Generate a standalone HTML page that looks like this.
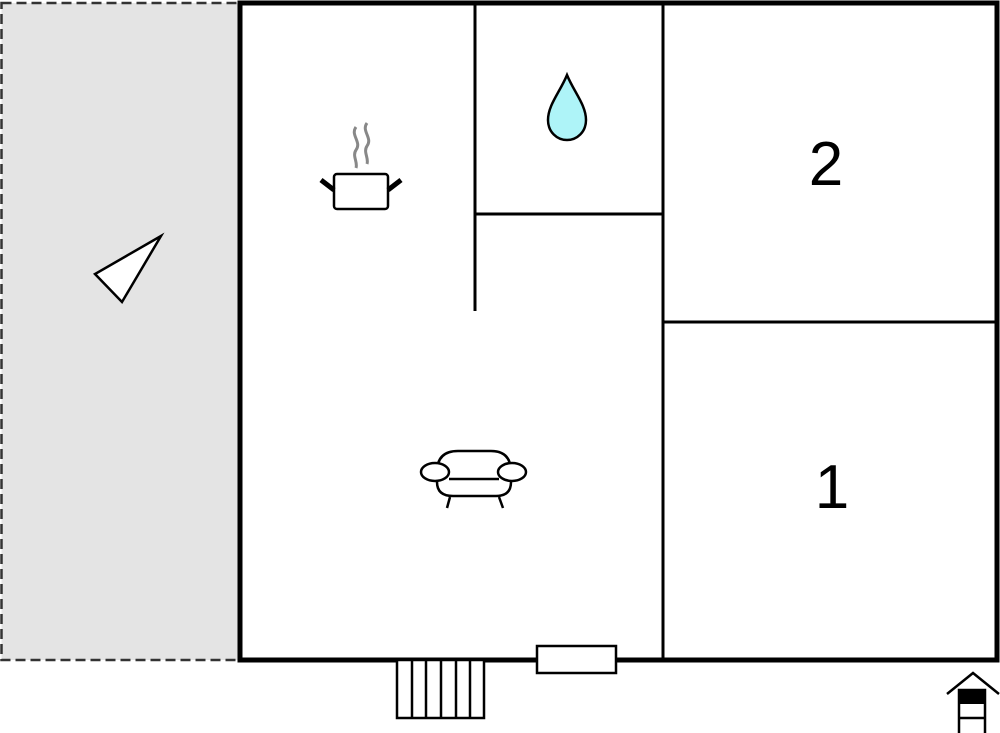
<!DOCTYPE html>
<html><head><style>body{margin:0;background:#fff}svg{display:block}</style></head><body>
<svg width="1000" height="733" viewBox="0 0 1000 733" xmlns="http://www.w3.org/2000/svg">
<rect x="1.5" y="3" width="238.5" height="657" fill="#e4e4e4" stroke="#333" stroke-width="2.5" stroke-dasharray="10,5"/>
<rect x="240" y="3" width="757" height="657" fill="#fff" stroke="#000" stroke-width="5"/>
<g stroke="#000" stroke-width="3" fill="none">
<line x1="475" y1="3" x2="475" y2="311"/>
<line x1="475" y1="214" x2="662" y2="214"/>
<line x1="663" y1="3" x2="663" y2="660"/>
<line x1="663" y1="322" x2="997" y2="322"/>
</g>
<g stroke="#000" stroke-width="2.5" fill="#fff">
<rect x="397" y="660" width="87" height="58"/>
<line x1="412" y1="660" x2="412" y2="718"/><line x1="426" y1="660" x2="426" y2="718"/>
<line x1="441" y1="660" x2="441" y2="718"/><line x1="456" y1="660" x2="456" y2="718"/>
<line x1="470" y1="660" x2="470" y2="718"/>
<rect x="537" y="646" width="79" height="27"/>
</g>
<polygon points="161,236 95,274 122,302" fill="#fff" stroke="#000" stroke-width="2.5"/>
<g fill="none" stroke="#888" stroke-width="3">
<path d="M356,127 C350,135 362,142 356,150 C352,156 358,162 356,168"/>
<path d="M367,123 C361,131 373,138 367,146 C363,152 369,158 367,164"/>
</g>
<rect x="334" y="174" width="54" height="35" rx="3" fill="#fff" stroke="#000" stroke-width="2.5"/>
<line x1="321" y1="180" x2="334" y2="190" stroke="#000" stroke-width="5"/>
<line x1="401" y1="180" x2="388" y2="190" stroke="#000" stroke-width="5"/>
<path d="M567,75 C560,92 548,105 548,120 C548,132 557,140 567,140 C577,140 586,132 586,120 C586,105 574,92 567,75 Z" fill="#aef4f8" stroke="#000" stroke-width="2.5"/>
<g fill="#fff" stroke="#000" stroke-width="2.5">
<path d="M437,472 Q437,451 458,451 L491,451 Q511,451 511,472 L511,482 Q511,496 496,496 L453,496 Q437,496 437,482 Z"/>
<ellipse cx="435" cy="472" rx="14" ry="9"/>
<ellipse cx="512" cy="472" rx="14" ry="9"/>
<line x1="449" y1="479" x2="499" y2="479"/>
<line x1="450" y1="497" x2="447" y2="508"/>
<line x1="499" y1="497" x2="503" y2="508"/>
</g>
<text x="826" y="185" font-family="Liberation Sans, sans-serif" font-size="62" text-anchor="middle">2</text>
<text x="832" y="508" font-family="Liberation Sans, sans-serif" font-size="62" text-anchor="middle">1</text>
<polyline points="947,694 973,673 999,694" fill="none" stroke="#000" stroke-width="2.5"/>
<rect x="959" y="690" width="26" height="45" fill="#fff" stroke="#000" stroke-width="2.5"/>
<rect x="959" y="690" width="26" height="14" fill="#000"/>
<line x1="959" y1="718" x2="985" y2="718" stroke="#000" stroke-width="2.5"/>
</svg>
</body></html>
